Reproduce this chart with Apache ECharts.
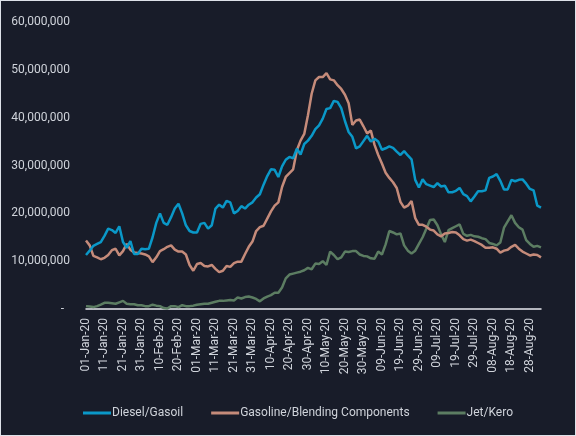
<!DOCTYPE html>
<html>
<head>
<meta charset="utf-8">
<script src="https://cdn.jsdelivr.net/npm/echarts@6/dist/echarts.min.js"></script>
<style>
html,body{margin:0;padding:0;background:#181c29;}
#chart{width:576px;height:436px;position:absolute;left:0;top:0;}
#frame{position:absolute;left:0;top:0;width:574px;height:434px;border:1px solid #dde1e8;pointer-events:none;}
</style>
</head>
<body>
<div id="chart"></div>
<div id="frame"></div>
<script>
// Categories: every second day from 01-Jan-20 to 03-Sep-20
const startDate = '2020-01-01';
const stepDays = 2;
const pointCount = 124;
const monthNames = ['Jan','Feb','Mar','Apr','May','Jun','Jul','Aug','Sep','Oct','Nov','Dec'];
const categories = [];
for (let i = 0; i < pointCount; i++) {
  const d = new Date(startDate + 'T00:00:00Z');
  d.setUTCDate(d.getUTCDate() + i * stepDays);
  const dd = String(d.getUTCDate()).padStart(2, '0');
  categories.push(dd + '-' + monthNames[d.getUTCMonth()] + '-' + String(d.getUTCFullYear()).slice(2));
}

// Values in millions
const dieselGasoil = [
11.3,12.2,13.2,13.6,14.0,15.3,16.8,16.5,15.9,17.3,
14.0,12.8,14.2,11.5,11.5,12.6,12.5,12.6,15.0,18.0,
20.0,18.0,17.6,19.2,21.0,22.0,20.0,17.5,16.3,16.0,
16.0,17.8,18.0,16.8,17.5,21.0,21.8,21.2,22.6,22.3,
20.0,20.5,21.5,21.0,21.8,22.3,23.3,24.0,26.0,27.8,
29.2,29.1,27.6,29.8,31.2,31.8,31.5,33.5,32.3,34.5,
35.2,36.2,37.6,38.4,39.8,41.8,42.0,43.5,43.3,42.0,
39.3,37.0,36.0,33.6,34.0,35.1,36.2,35.0,35.6,35.0,
33.3,33.6,34.0,33.7,32.9,32.2,33.0,32.1,31.3,27.0,
25.4,27.1,26.1,25.8,25.5,26.3,25.6,25.8,24.4,24.4,
24.7,25.3,24.0,23.6,22.5,23.5,24.6,24.6,24.8,27.4,
27.7,28.2,26.8,25.0,25.0,27.0,26.7,27.0,27.1,26.2,
25.1,24.8,21.6,21.2
];
const gasolineBlending = [
14.3,13.3,11.1,10.8,10.4,10.7,11.3,12.3,12.6,11.2,
12.1,13.6,12.4,11.8,11.7,11.6,11.4,11.0,9.8,10.8,
12.1,12.5,13.0,13.3,12.4,12.0,12.0,11.4,9.2,8.0,
9.4,9.6,9.0,8.9,9.2,8.4,7.7,8.0,9.0,8.8,
9.6,9.9,9.9,11.5,13.0,14.1,16.3,17.1,17.4,18.9,
20.4,21.6,22.3,25.5,27.6,28.4,29.2,33.2,35.2,36.6,
40.5,45.0,47.8,48.5,48.5,49.3,48.0,47.8,46.8,46.0,
44.8,43.0,38.5,39.4,39.6,38.2,36.7,37.3,34.3,32.2,
30.4,28.5,27.4,26.5,25.3,22.4,21.2,21.6,22.6,19.0,
17.6,17.6,17.2,16.6,16.4,15.6,15.2,15.8,15.9,16.1,
16.0,15.4,14.6,14.3,14.5,14.2,13.8,13.4,12.8,12.8,
12.9,12.6,11.8,12.2,12.4,13.0,13.4,12.6,12.0,11.6,
11.2,11.4,11.3,10.8
];
const jetKero = [
0.6,0.5,0.4,0.6,0.9,1.3,1.3,1.2,1.1,1.4,
1.7,1.1,1.0,1.0,0.8,0.8,0.6,0.6,0.9,0.7,
0.6,0.2,0.1,0.6,0.6,0.4,0.8,0.6,0.6,0.7,
0.9,1.0,1.1,1.1,1.3,1.5,1.7,1.7,1.8,1.9,
1.8,2.4,2.2,2.5,2.6,2.4,2.1,1.6,2.2,2.6,
2.9,3.4,3.4,4.5,6.4,7.2,7.4,7.6,7.8,8.1,
8.6,8.3,9.5,9.4,10.0,9.2,12.0,11.3,10.4,10.8,
12.0,11.9,12.1,12.1,11.4,11.1,11.0,10.6,10.5,12.0,
11.4,13.5,16.3,16.0,15.6,15.8,13.3,12.2,11.6,12.2,
13.6,15.0,16.8,18.6,18.7,17.5,15.6,14.0,16.5,16.9,
17.3,17.7,15.7,15.3,15.5,15.2,15.1,14.8,14.6,13.8,
13.6,13.3,13.9,17.0,18.3,19.6,18.0,17.1,16.6,14.4,
13.6,13.0,13.2,12.9
];
const seriesNames = ['Diesel/Gasoil', 'Gasoline/Blending Components', 'Jet/Kero'];
const seriesColors = ['#0a98c8', '#c58b7a', '#5c7d62'];
const unit = 1000000;
const yMax = 60000000;
const yInterval = 10000000;

const toUnits = arr => arr.map(v => Math.round(v * unit));
const allValues = [dieselGasoil, gasolineBlending, jetKero];

const chart = echarts.init(document.getElementById('chart'), null, {renderer: 'canvas'});
const textColor = '#cfd3da';
chart.setOption({
  backgroundColor: '#181c29',
  animation: false,
  grid: {left: 86, right: 35, top: 22, bottom: 127},
  legend: {
    left: 78,
    top: 402,
    itemWidth: 28,
    itemHeight: 3,
    itemGap: 28,
    icon: 'rect',
    textStyle: {color: textColor, fontFamily: 'Roboto', fontSize: 12, padding: [0, 0, 0, -4]},
    data: seriesNames
  },
  xAxis: {
    type: 'category',
    data: categories,
    boundaryGap: false,
    axisLine: {lineStyle: {color: '#e6e8ee', width: 1.5}},
    axisTick: {show: false},
    axisLabel: {
      interval: 4,
      rotate: 90,
      color: textColor,
      fontFamily: 'Roboto',
      fontSize: 12,
      margin: 9
    },
    splitLine: {show: false}
  },
  yAxis: {
    type: 'value',
    min: 0,
    max: yMax,
    interval: yInterval,
    axisLine: {show: false},
    axisTick: {show: false},
    splitLine: {show: false},
    axisLabel: {
      color: textColor,
      fontFamily: 'Roboto',
      fontSize: 12,
      margin: 16,
      formatter: v => v === 0 ? '-  ' : v.toLocaleString('en-US')
    }
  },
  series: seriesNames.map((name, k) => ({
    name: name,
    type: 'line',
    data: toUnits(allValues[k]),
    showSymbol: false,
    symbol: 'none',
    lineStyle: {color: seriesColors[k], width: 2.5},
    itemStyle: {color: seriesColors[k]},
    z: k === 0 ? 4 : (k === 1 ? 3 : 2)
  }))
});
</script>
</body>
</html>
